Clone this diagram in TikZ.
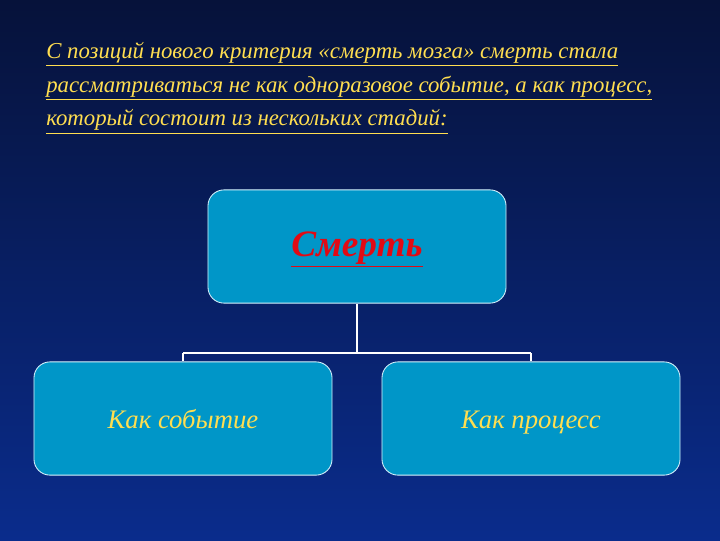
\documentclass[tikz,border=0pt]{standalone}
\usepackage{fontspec}
\setmainfont{Liberation Serif}
\usetikzlibrary{positioning}
\definecolor{bgtop}{RGB}{6,18,58}
\definecolor{bgbot}{RGB}{10,44,140}
\definecolor{boxfill}{RGB}{0,150,200}
\definecolor{txtyellow}{RGB}{255,222,80}
\definecolor{txtred}{RGB}{225,10,20}
\tikzset{
	stage/.style={draw=white!85!cyan,line width=0.6pt,fill=boxfill,rounded corners=0.4cm,
		minimum width=7.45cm,minimum height=2.83cm,inner sep=0pt,text height=15pt,text depth=0.4pt},
	link/.style={draw=white,line width=1.2pt}
}
\begin{document}
\begin{tikzpicture}[x=0.025cm,y=-0.025cm]
	\shade[top color=bgtop,bottom color=bgbot] (0,0) rectangle (720,540);
	\useasboundingbox (0,0) rectangle (720,540);
	\node (intro) [anchor=north west,align=left,text=txtyellow,inner sep=0pt,
		font=\fontsize{16.2}{24}\selectfont\itshape] at (46,42)
		{\underline{С позиций нового критерия «смерть мозга» смерть стала}\\
		 \underline{рассматриваться не как одноразовое событие, а как процесс,}\\
		 \underline{который состоит из нескольких стадий:}};
	\node (death) [stage] at (357,246.5)
		{\textcolor{txtred}{\fontsize{26.5}{30}\selectfont\bfseries\itshape\underline{Смерть}}};
	\node (event) [stage] at (183,418.5)
		{\textcolor{txtyellow}{\fontsize{19}{22}\selectfont\itshape Как событие}};
	\node (process) [stage] at (531,418.5)
		{\textcolor{txtyellow}{\fontsize{19}{22}\selectfont\itshape Как процесс}};
	\coordinate (mid) at (357,353);
	\coordinate (midl) at (183,353);
	\coordinate (midr) at (531,353);
	\draw [link] (death.south) -- (mid);
	\draw [link] (midl) -- (midr);
	\draw [link] (midl) -- (event.north);
	\draw [link] (midr) -- (process.north);
\end{tikzpicture}
\end{document}
